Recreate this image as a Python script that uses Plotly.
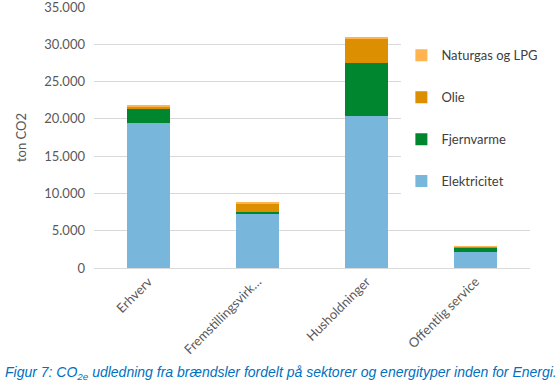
import plotly.graph_objects as go

categories = ["Erhverv", "Fremstillingsvirk…", "Husholdninger", "Offentlig service"]
series_names = ["Elektricitet", "Fjernvarme", "Olie", "Naturgas og LPG"]
elektricitet = [19400, 7300, 20450, 2150]
fjernvarme = [2050, 220, 7080, 590]
olie = [250, 1130, 3280, 80]
naturgas = [150, 120, 140, 130]
colors = ["#79B6DC", "#00862F", "#DC8F00", "#FFB450"]
y_ticks = [0, 5000, 10000, 15000, 20000, 25000, 30000, 35000]

fig = go.Figure()
for i, (name, vals, col) in enumerate(zip(series_names, [elektricitet, fjernvarme, olie, naturgas], colors)):
    fig.add_trace(go.Bar(x=categories, y=vals, name=name, marker_color=col,
                         marker_line_width=0, legendgroup=name, legendrank=10 - i))

font = "Lato, 'Open Sans', sans-serif"
fig.update_layout(
    width=560, height=384,
    margin=dict(l=94, r=30, t=7, b=116, autoexpand=False),
    barmode="stack", bargap=0.6,
    separators=",.",
    plot_bgcolor="white", paper_bgcolor="white",
    font=dict(family=font, size=13, color="#595959"),
    showlegend=True,
    legend=dict(x=0.705, xanchor="left", y=0.872, yanchor="top",
                bgcolor="white", traceorder="grouped", tracegroupgap=22,
                font=dict(size=13, color="#404040"), itemwidth=30),
    yaxis=dict(range=[0, 35000], tickvals=y_ticks, tickformat=",d", automargin=False,
               showgrid=True, gridcolor="#D9D9D9", gridwidth=1,
               zeroline=True, zerolinecolor="#D9D9D9", zerolinewidth=1,
               ticklabelstandoff=8, ticklabeloverflow="allow",
               title=dict(text="ton CO2", font=dict(size=13, color="#595959"), standoff=14)),
    xaxis=dict(tickangle=-45, showline=True, linecolor="#D9D9D9", linewidth=1, automargin=False,
               tickfont=dict(size=13, color="#595959"), ticklabeloverflow="allow"),
)
fig.add_annotation(
    text="Figur 7: CO<sub>2e</sub> udledning fra brændsler fordelt på sektorer og energityper inden for Energi.",
    xref="paper", yref="paper", x=-0.209, y=-0.404, xanchor="left", yanchor="middle",
    showarrow=False,
    font=dict(family="'Liberation Sans', Arial, sans-serif", size=14, color="#0070C0", style="italic"),
)
fig.write_html("out.html", config={"displayModeBar": False},
               post_script="document.body.style.margin='0';document.body.style.overflow='hidden';")
